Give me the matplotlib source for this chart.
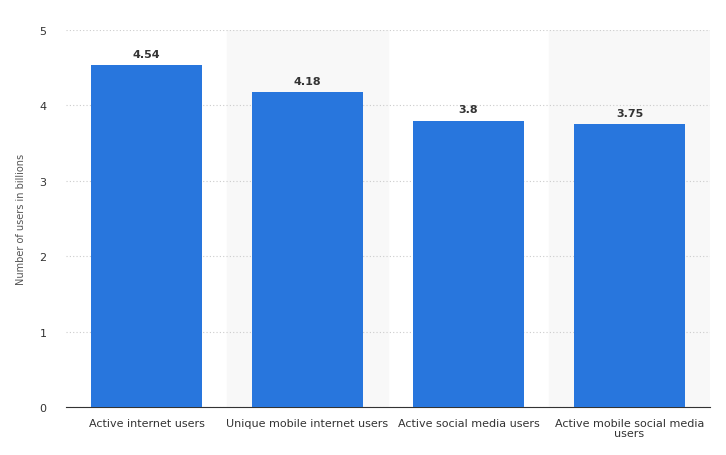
import matplotlib
matplotlib.use("Agg")
import matplotlib.pyplot as plt

categories = ["Active internet users", "Unique mobile internet users", "Active social media users", "Active mobile social media\nusers"]
values = [4.54, 4.18, 3.8, 3.75]
labels = ["4.54", "4.18", "3.8", "3.75"]

fig = plt.figure(figsize=(7.26, 4.56), dpi=100)
ax = fig.add_axes([0.0909, 0.105, 0.887, 0.827])
x = list(range(len(categories)))
for i in x:
    if i % 2 == 1:
        ax.axvspan(i - 0.5, i + 0.5, color="#f8f8f8", zorder=0)
ax.bar(x, values, width=0.69, color="#2876dd", zorder=3)
for i, v in enumerate(values):
    ax.text(i, v + 0.08, labels[i], ha="center", va="bottom", fontsize=8, fontweight="bold", color="#333333")
ax.set_xlim(-0.5, 3.5)
ax.set_ylim(0, 5)
ax.set_yticks([0, 1, 2, 3, 4, 5])
ax.yaxis.grid(True, linestyle=(0, (1, 2)), color="#cccccc", linewidth=0.8, zorder=1)
ax.set_xticks(x)
ax.set_xticklabels(categories, fontsize=8, color="#333333", linespacing=1.0)
ax.tick_params(axis="y", labelsize=8, colors="#333333", length=0, pad=14)
ax.tick_params(axis="x", length=0, pad=8)
for s in ["top", "right", "left"]:
    ax.spines[s].set_visible(False)
ax.spines["bottom"].set_color("#333333")
ax.set_ylabel("Number of users in billions", fontsize=7, color="#555555", labelpad=10)
fig.savefig("out.png", dpi=100)
